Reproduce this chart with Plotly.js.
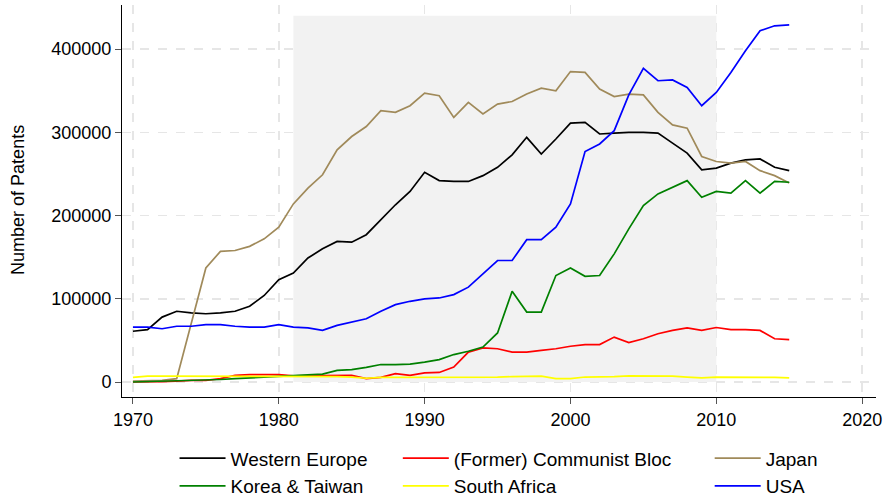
<!DOCTYPE html>
<html>
<head>
<meta charset="utf-8">
<script src="https://cdn.plot.ly/plotly-3.0.1.min.js"></script>
<style>
  html, body { margin: 0; padding: 0; background: #ffffff; }
  #chart { width: 886px; height: 498px; }
</style>
</head>
<body>
<div id="chart"></div>
<script>
var years = [1970,1971,1972,1973,1974,1975,1976,1977,1978,1979,
             1980,1981,1982,1983,1984,1985,1986,1987,1988,1989,
             1990,1991,1992,1993,1994,1995,1996,1997,1998,1999,
             2000,2001,2002,2003,2004,2005,2006,2007,2008,2009,
             2010,2011,2012,2013,2014,2015];

var westernEurope = [61000,63000,78000,85000,83000,82000,83000,85000,91000,104000,
                     123000,131000,149000,160000,169000,168000,177000,195000,213000,229000,
                     252000,242000,241000,241000,248000,258000,273000,294000,274000,292000,
                     311000,312000,298000,299000,300000,300000,299000,287000,275000,255000,
                     257000,263000,267000,268000,258000,254000];

var communistBloc = [0,0,500,1000,2000,2000,4000,8000,9000,9000,
                     9000,7500,7500,8000,8000,8000,4000,5500,10000,8000,
                     11000,11500,18000,36000,41000,40000,36000,36000,38000,40000,
                     43000,45000,45000,54000,47500,52000,58000,62000,65000,62000,
                     65500,63000,63000,62000,52000,51000];

var japan = [1000,1500,2000,4000,70000,137000,157000,158000,163000,172000,
             186000,214000,233000,249000,279000,295000,307000,326000,324000,332000,
             347000,344000,318000,336000,322000,334000,337000,346000,353000,350000,
             373000,372000,352000,343000,346000,345000,324000,309000,305000,271000,
             265000,263000,265000,254000,248000,239000];

var koreaTaiwan = [0,500,1000,1500,2000,2000,3000,4000,5000,6000,
                   7000,7600,8500,9500,14000,15000,17500,21000,21000,21500,
                   24000,27000,33000,37000,42000,59000,109000,84000,84000,128000,
                   137000,127000,128000,154000,184000,212000,226000,234000,242000,222000,
                   229000,227000,242000,227000,241000,240000];

var southAfrica = [5500,7000,7000,7000,7000,7000,7000,7000,7000,7000,
                   6500,6500,6500,6500,6500,6000,4500,5500,5500,5500,
                   5500,5500,5500,5500,5500,6000,6500,7000,7000,4000,
                   4000,6000,6000,6500,7500,7500,7500,7000,6000,5000,
                   6000,6000,6000,5500,5500,5000];

var usa = [66000,66000,64000,67000,67000,69000,69000,67000,66000,66000,
           69000,66000,65000,62000,68000,72000,76000,85000,93000,97000,
           100000,101000,105000,114000,130000,146000,146000,171000,171000,186000,
           214000,277000,286000,302000,345000,377000,362000,363000,354000,332000,
           348000,372000,398000,422000,428000,429000];

var seriesNames = ["Western Europe","(Former) Communist Bloc","Japan","Korea & Taiwan","South Africa","USA"];
var seriesData = [westernEurope, communistBloc, japan, koreaTaiwan, southAfrica, usa];
var seriesColors = ["#000000","#ff0000","#a08a5a","#008000","#ffff00","#0000ff"];
var seriesLegend = ["legend","legend2","legend3","legend","legend2","legend3"];

var xTicks = [1970,1980,1990,2000,2010,2020];
var yTicks = [0,100000,200000,300000,400000];
var yTitle = "Number of Patents";
var shadeStart = 1981, shadeEnd = 2010, shadeTop = 440000;

var traces = seriesNames.map(function(name, i) {
  return {
    x: years, y: seriesData[i], name: name, type: "scatter", mode: "lines",
    line: {color: seriesColors[i], width: 1.7},
    legend: seriesLegend[i]
  };
});

var font = {family: "Liberation Sans, Arial, sans-serif", size: 18, color: "#000000"};
var legendFont = {family: "Liberation Sans, Arial, sans-serif", size: 19, color: "#000000"};
function legendAt(x) {
  return {
    xref: "container", yref: "container", x: x, y: 0.118,
    xanchor: "left", yanchor: "top", orientation: "v",
    font: legendFont, bgcolor: "rgba(0,0,0,0)", tracegroupgap: 0, itemwidth: 46
  };
}

var layout = {
  width: 886, height: 498,
  margin: {l: 122, r: 10, t: 5, b: 101, autoexpand: false},
  paper_bgcolor: "#ffffff", plot_bgcolor: "#ffffff",
  font: font,
  showlegend: true,
  legend: legendAt(0.197),
  legend2: legendAt(0.449),
  legend3: legendAt(0.801),
  xaxis: {
    range: [1969.25, 2020.95], tickvals: xTicks, ticktext: xTicks.map(String),
    ticks: "outside", ticklen: 6, tickcolor: "#555555",
    showline: true, linecolor: "#000000", linewidth: 1,
    showgrid: true, gridcolor: "#e6e6e6", griddash: "dash", gridwidth: 1.5,
    zeroline: false, tickfont: font
  },
  yaxis: {
    range: [-18000, 453000], tickvals: yTicks, tickformat: "d",
    ticks: "outside", ticklen: 6, tickcolor: "#555555",
    showline: true, linecolor: "#000000", linewidth: 1,
    showgrid: true, gridcolor: "#e6e6e6", griddash: "dash", gridwidth: 1.5,
    zeroline: false, tickfont: font
  },
  annotations: [{
    text: yTitle, xref: "paper", yref: "paper", x: -0.138, y: 0.5026,
    xanchor: "center", yanchor: "middle", textangle: -90, showarrow: false,
    font: {family: "Liberation Sans, Arial, sans-serif", size: 18, color: "#000000"}
  }],
  shapes: [{
    type: "rect", xref: "x", yref: "y", layer: "between",
    x0: shadeStart, x1: shadeEnd, y0: 0, y1: shadeTop,
    fillcolor: "#f2f2f2", line: {width: 0}
  }]
};

Plotly.newPlot("chart", traces, layout, {displayModeBar: false, staticPlot: true});
</script>
</body>
</html>
